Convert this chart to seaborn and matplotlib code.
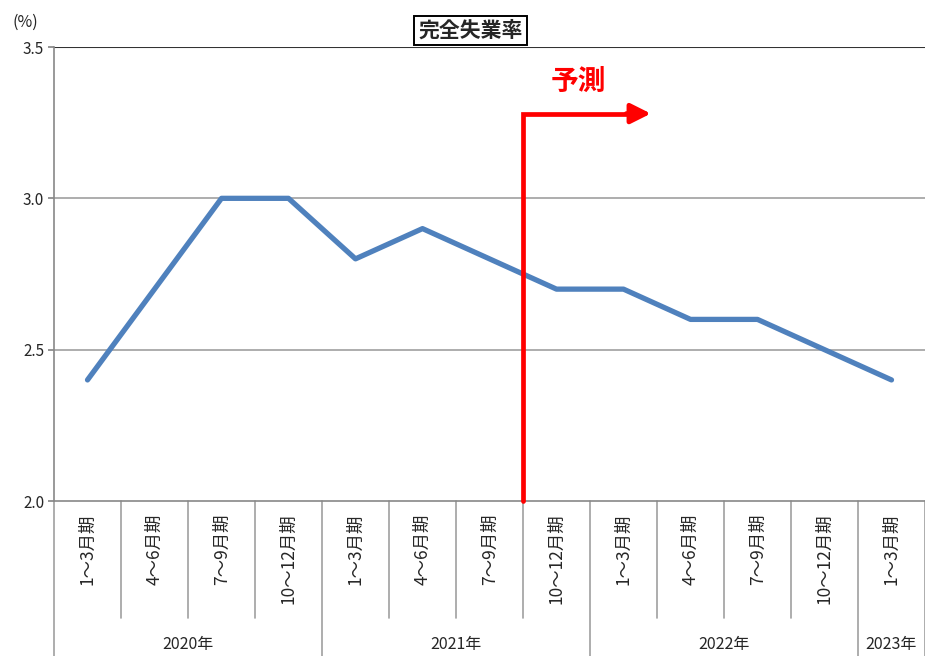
import matplotlib
matplotlib.use("Agg")
import matplotlib.pyplot as plt
import seaborn as sns
import pandas as pd
import numpy as np

quarters = ["1～3月期", "4～6月期", "7～9月期", "10～12月期",
            "1～3月期", "4～6月期", "7～9月期", "10～12月期",
            "1～3月期", "4～6月期", "7～9月期", "10～12月期",
            "1～3月期"]
rate = [2.4, 2.7, 3.0, 3.0, 2.8, 2.9, 2.8, 2.7, 2.7, 2.6, 2.6, 2.5, 2.4]
years = ["2020年", "2021年", "2022年", "2023年"]
year_counts = [4, 4, 4, 1]
y_ticks = [2.0, 2.5, 3.0, 3.5]
forecast_start = 7   # index of first forecast quarter
forecast_level = 3.28

sns.set_theme(style="white")
plt.rcParams['font.family'] = ['Noto Sans CJK JP', 'DejaVu Sans']

fig = plt.figure(figsize=(9.25, 6.56), dpi=100)
ax = fig.add_axes([54/925, 1-501/656, 871/925, 454/656])

df = pd.DataFrame({"pos": np.arange(len(rate)), "rate": rate})
sns.lineplot(data=df, x="pos", y="rate", ax=ax, color="#4F81BD", linewidth=3.8)

ax.set_xlim(-0.5, len(rate) - 0.5)
ax.set_ylim(2.0, 3.5)
ax.set_yticks(y_ticks)
ax.set_yticklabels([f"{v:.1f}" for v in y_ticks], fontsize=11)
ax.set_xticks([])
ax.set_xlabel("")
ax.set_ylabel("")

for v in y_ticks[1:-1]:
    ax.axhline(v, color="#A0A0A0", lw=1.2, zorder=0)
ax.axhline(3.5, color="#333333", lw=1.5, zorder=0)

for s in ["right", "top"]:
    ax.spines[s].set_visible(False)
ax.spines["left"].set_color("#888888")
ax.spines["left"].set_linewidth(1.2)
ax.spines["bottom"].set_color("#888888")
ax.spines["bottom"].set_linewidth(1.2)
ax.tick_params(axis="y", length=4, color="#888888", left=True, pad=3)

# category axis below
trans = matplotlib.transforms.blended_transform_factory(ax.transData, ax.transAxes)
for i, q in enumerate(quarters):
    ax.text(i, -0.028, q, rotation=90, ha="center", va="top", fontsize=12.5,
            transform=trans, clip_on=False)
year_bounds = np.cumsum([0] + year_counts)
for b in range(1, len(quarters)):
    if b in year_bounds:
        continue
    ax.plot([b - 0.5, b - 0.5], [0, -0.258], color="#A0A0A0", lw=1.2,
            transform=trans, clip_on=False)
for b in year_bounds:
    ax.plot([b - 0.5, b - 0.5], [0, -0.36], color="#A0A0A0", lw=1.2,
            transform=trans, clip_on=False)
for k, y in enumerate(years):
    c = (year_bounds[k] + year_bounds[k + 1]) / 2 - 0.5
    ax.text(c, -0.315, y, ha="center", va="center", fontsize=11.5,
            transform=trans, clip_on=False)

# forecast marker
fx = forecast_start - 0.5
ax.plot([fx, fx, fx + 1.6], [2.0, forecast_level, forecast_level],
        color="red", lw=3.4, solid_joinstyle="miter", clip_on=False, zorder=5)
ax.annotate("", xy=(fx + 1.95, forecast_level), xytext=(fx + 1.5, forecast_level),
            arrowprops=dict(arrowstyle="-|>,head_length=1.0,head_width=0.5",
                            color="red", lw=3.4), zorder=5)
ax.text(fx + 0.82, 3.385, "予測", color="red", fontsize=20, fontweight="bold",
        ha="center", va="center")

# title
ax.text(0.478, 1.037, "完全失業率", transform=ax.transAxes, ha="center", va="center",
        fontsize=15, fontweight="bold",
        bbox=dict(boxstyle="square,pad=0.2", fc="white", ec="black", lw=1.4))
ax.text(-0.033, 1.055, "(%)", transform=ax.transAxes, ha="center", va="center",
        fontsize=11.5)

fig.savefig("out.png", dpi=100)
